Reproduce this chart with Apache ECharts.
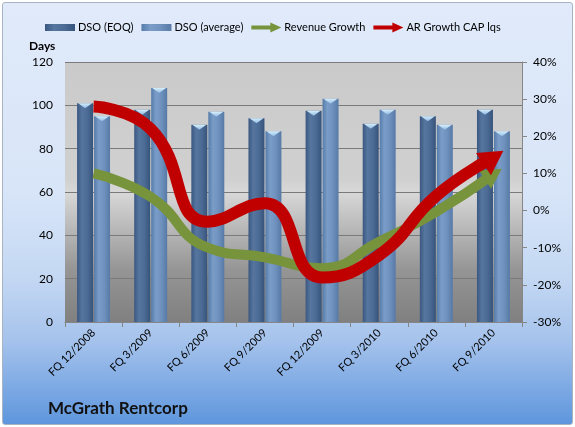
<!DOCTYPE html>
<html>
<head>
<meta charset="utf-8">
<script src="https://cdn.jsdelivr.net/npm/echarts@6/dist/echarts.min.js"></script>
<style>
html,body{margin:0;padding:0;background:#fff;}
#wrap{position:relative;width:575px;height:427px;}
#bg{position:absolute;left:2px;top:2px;width:569px;height:421px;border:1px solid #A9B4C2;border-radius:3px;
background:linear-gradient(to bottom,#E0EAFA 0%,#D8E5F8 45%,#C4D8F3 65%,#A6C3EC 80%,#5E96DD 100%);}
#c{position:absolute;left:0;top:0;width:575px;height:427px;}
</style>
</head>
<body>
<div id="wrap"><div id="bg"></div><div id="c"></div></div>
<script>
// ---- data ----
const categories = ['FQ 12/2008','FQ 3/2009','FQ 6/2009','FQ 9/2009','FQ 12/2009','FQ 3/2010','FQ 6/2010','FQ 9/2010'];
const dsoEOQ = [101, 98, 91, 94, 97.5, 91.5, 95, 98];
const dsoAverage = [95, 108, 97, 88, 103, 98, 91, 88];
const revenueGrowth = [10, 3.7, -10, -12.6, -15.5, -8.4, -0.3, 9.8];
const arGrowth = [28, 22, -3, 2, -18, -12, 4, 14.3];
const dayTicks = [0, 20, 40, 60, 80, 100, 120];
const pctTicks = [-30, -20, -10, 0, 10, 20, 30, 40];
const seriesNames = ['DSO (EOQ)', 'DSO (average)', 'Revenue Growth', 'AR Growth CAP lqs'];
const chartTitle = 'McGrath Rentcorp';
const leftAxisName = 'Days';

// ---- styles ----
const FONT = 'Lato';
const GREEN = '#77933C';
const RED = '#C00000';
const eoqFill = {type:'linear',x:0,y:0,x2:1,y2:0,colorStops:[
  {offset:0,color:'#3A5780'},{offset:0.3,color:'#56769F'},{offset:0.65,color:'#4B6B95'},{offset:1,color:'#37537A'}]};
const avgFill = {type:'linear',x:0,y:0,x2:1,y2:0,colorStops:[
  {offset:0,color:'#577CAA'},{offset:0.3,color:'#7A9DC8'},{offset:0.65,color:'#6D90BD'},{offset:1,color:'#5679A6'}]};
const capFill = {type:'linear',x:0,y:0,x2:0,y2:1,colorStops:[
  {offset:0,color:'#D6EEFB'},{offset:1,color:'#8FBBE3'}]};
const plotBg = {type:'linear',x:0,y:0,x2:0,y2:1,colorStops:[
  {offset:0,color:'#CACACA'},{offset:0.45,color:'#D0D0D0'},{offset:0.5,color:'#D8D8D8'},
  {offset:0.62,color:'#BDBDBD'},{offset:0.8,color:'#959595'},{offset:1,color:'#808080'}]};
const barIcon = 'path://M0,0 H30 V7 H0 Z';
const arrowIcon = 'path://M0,3 H19 V0 L30,5 L19,10 V7 H0 Z';
const headPath = 'path://M10,0 L20,20 L0,20 Z';

const chart = echarts.init(document.getElementById('c'), null, {renderer:'canvas'});

const BW = 16, GAP = '6%', CGAP = '44%';

const option = {
  animation: false,
  textStyle: {fontFamily: FONT},
  legend: {
    left: 40, top: 17, itemWidth: 30, itemHeight: 10, itemGap: 8,
    textStyle: {fontFamily: FONT, fontSize: 11, color: '#000', padding: [0, 0, 0, -2]},
    selectedMode: false,
    data: [
      {name: seriesNames[0], icon: barIcon},
      {name: seriesNames[1], icon: barIcon},
      {name: seriesNames[2], icon: arrowIcon},
      {name: seriesNames[3], icon: arrowIcon}
    ]
  },
  graphic: [
    {type:'text', left: 29, top: 40, style:{text: leftAxisName, fontFamily: FONT, fontWeight:'bold', fontSize: 12, fill:'#000'}},
    {type:'text', left: 48, top: 400, style:{text: chartTitle, fontFamily: FONT, fontWeight:'bold', fontSize: 17, fill:'#111'}}
  ],
  grid: {left: 65, right: 53, top: 62, bottom: 105, show: true, backgroundColor: plotBg, borderWidth: 0},
  xAxis: {
    type: 'category', data: categories,
    axisLine: {show: true, lineStyle: {color: '#868686'}},
    axisTick: {show: true, length: 5, lineStyle: {color: '#868686'}},
    axisLabel: {interval: 0, rotate: 45, fontSize: 11, color: '#000', fontFamily: FONT, margin: 9}
  },
  yAxis: [
    {
      type: 'value', min: dayTicks[0], max: dayTicks[dayTicks.length-1], interval: dayTicks[1]-dayTicks[0],
      axisLine: {show: false}, axisTick: {show: false},
      axisLabel: {fontSize: 12, color: '#000', fontFamily: FONT, margin: 12},
      splitLine: {show: true, lineStyle: {color: '#7A7A7A', width: 1}}
    },
    {
      type: 'value', min: pctTicks[0], max: pctTicks[pctTicks.length-1], interval: pctTicks[1]-pctTicks[0],
      position: 'right',
      axisLine: {show: true, lineStyle: {color: '#868686'}},
      axisTick: {show: true, length: 5, lineStyle: {color: '#868686'}},
      axisLabel: {fontSize: 12, color: '#000', fontFamily: FONT, margin: 11, formatter: '{value}%'},
      splitLine: {show: false}
    }
  ],
  series: [
    {name: seriesNames[0], type: 'bar', yAxisIndex: 0, data: dsoEOQ, barWidth: BW, barGap: GAP, barCategoryGap: CGAP,
     itemStyle: {color: eoqFill}, z: 2, silent: true},
    {name: seriesNames[1], type: 'bar', yAxisIndex: 0, data: dsoAverage, barWidth: BW, barGap: GAP, barCategoryGap: CGAP,
     itemStyle: {color: avgFill}, z: 2, silent: true},
    {name: 'capEOQ', type: 'pictorialBar', yAxisIndex: 0, data: dsoEOQ, barWidth: BW, barGap: GAP, barCategoryGap: CGAP,
     symbol: 'path://M0,0 L16,0 L8,5 Z', symbolSize: [BW-2, 5], symbolPosition: 'end', symbolOffset: [0, 0],
     itemStyle: {color: capFill}, z: 3, silent: true},
    {name: 'capAvg', type: 'pictorialBar', yAxisIndex: 0, data: dsoAverage, barWidth: BW, barGap: GAP, barCategoryGap: CGAP,
     symbol: 'path://M0,0 L16,0 L8,5 Z', symbolSize: [BW-2, 5], symbolPosition: 'end', symbolOffset: [0, 0],
     itemStyle: {color: capFill}, z: 3, silent: true},
    {name: seriesNames[2], type: 'line', yAxisIndex: 1, data: revenueGrowth.slice(), smooth: 0.5,
     symbol: 'none', lineStyle: {color: GREEN, width: 10}, itemStyle: {color: GREEN, borderWidth: 0}, z: 4, silent: true},
    {name: seriesNames[3], type: 'line', yAxisIndex: 1, data: arGrowth.slice(), smooth: 0.5,
     symbol: 'none', lineStyle: {color: RED, width: 12}, itemStyle: {color: RED, borderWidth: 0}, z: 5, silent: true}
  ]
};
chart.setOption(option);

// arrowheads at the end of each growth line, oriented along the last segment
function headFor(seriesIndex, values, size, color) {
  const n = values.length;
  const a = chart.convertToPixel({seriesIndex}, [n-2, values[n-2]]);
  const b = chart.convertToPixel({seriesIndex}, [n-1, values[n-1]]);
  const ang = Math.atan2(a[1]-b[1], b[0]-a[0]) * 180 / Math.PI;
  return values.map((v, i) => i < n-1 ? v : {
    value: v, symbol: headPath, symbolSize: size, symbolRotate: ang - 90, symbolKeepAspect: false,
    itemStyle: {color, borderWidth: 0}
  });
}
chart.setOption({series: [
  {}, {}, {}, {},
  {data: headFor(4, revenueGrowth, [22, 20], GREEN)},
  {data: headFor(5, arGrowth, [27, 24], RED)}
]});
</script>
</body>
</html>
